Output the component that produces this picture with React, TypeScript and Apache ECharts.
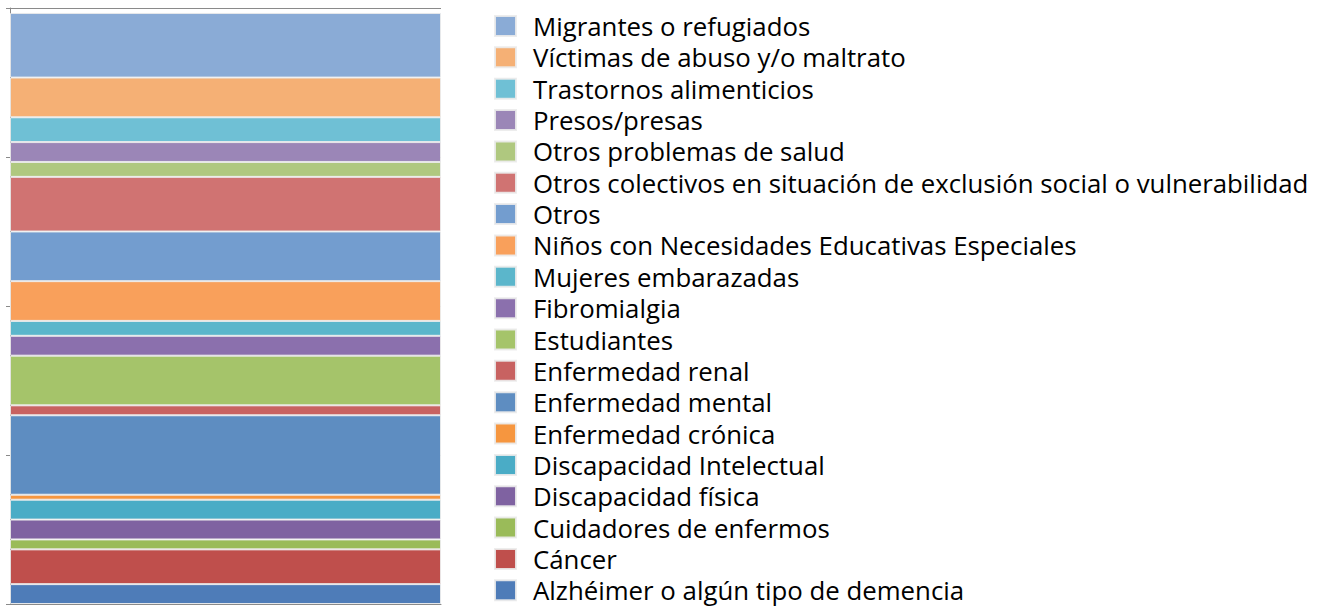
import React, { useEffect, useRef } from "react";
import * as echarts from "echarts";

// Series in stacking order (bottom to top)
const seriesNames = [
  "Alzhéimer o algún tipo de demencia",
  "Cáncer",
  "Cuidadores de enfermos",
  "Discapacidad física",
  "Discapacidad Intelectual",
  "Enfermedad crónica",
  "Enfermedad mental",
  "Enfermedad renal",
  "Estudiantes",
  "Fibromialgia",
  "Mujeres embarazadas",
  "Niños con Necesidades Educativas Especiales",
  "Otros",
  "Otros colectivos en situación de exclusión social o vulnerabilidad",
  "Otros problemas de salud",
  "Presos/presas",
  "Trastornos alimenticios",
  "Víctimas de abuso y/o maltrato",
  "Migrantes o refugiados",
];

const seriesValues = [4, 7, 2, 4, 4, 1, 16, 2, 10, 4, 3, 8, 10, 11, 3, 4, 5, 8, 13];

const seriesColors = [
  "#4E7CB8",
  "#BF4F4C",
  "#9ABB59",
  "#7F62A1",
  "#4AACC6",
  "#F6963F",
  "#5E8DC1",
  "#C86261",
  "#A5C46A",
  "#8B70AD",
  "#5BB6CB",
  "#F9A05B",
  "#739DCF",
  "#D07372",
  "#AFC87F",
  "#9B86B7",
  "#6FC0D5",
  "#F5B075",
  "#8AABD6",
];

const categories = [""];

export default function App() {
  const ref = useRef<HTMLDivElement>(null);

  useEffect(() => {
    if (!ref.current) return;
    const chart = echarts.init(ref.current, undefined, { renderer: "svg" });
    const series = seriesNames.map((name, i) => ({
      name,
      type: "bar",
      stack: "total",
      barWidth: "100%",
      data: [seriesValues[i]],
      itemStyle: {
        color: seriesColors[i],
        borderColor: "rgba(235,235,235,0.9)",
        borderWidth: 1,
      },
    }));
    chart.setOption({
      animation: false,
      grid: { left: 10, top: 8, width: 431, height: 596, containLabel: false },
      legend: {
        orient: "vertical",
        left: 494,
        top: 13,
        height: 594,
        padding: 0,
        icon: "rect",
        itemWidth: 21,
        itemHeight: 20,
        itemGap: 5.35,
        data: [...seriesNames].reverse(),
        textStyle: {
          fontFamily: "Open Sans",
          fontSize: 25.8,
          color: "#000",
          padding: [0, 0, 0, 12],
        },
      },
      xAxis: {
        type: "category",
        data: categories,
        axisLine: { show: true, lineStyle: { color: "#8a8a8a", width: 1 } },
        axisTick: { show: false },
        axisLabel: { show: false },
      },
      yAxis: {
        type: "value",
        min: 0,
        max: 120,
        interval: 30,
        axisLine: { show: true, lineStyle: { color: "#8a8a8a", width: 1 } },
        axisTick: { show: true, length: 4, lineStyle: { color: "#8a8a8a" } },
        axisLabel: { show: false },
        splitLine: { show: true, lineStyle: { color: "#8a8a8a", width: 1 } },
      },
      series,
    });
    return () => chart.dispose();
  }, []);

  return (
    <div
      ref={ref}
      style={{ position: "fixed", left: 0, top: 0, width: 1322, height: 607, background: "#fff" }}
    />
  );
}
